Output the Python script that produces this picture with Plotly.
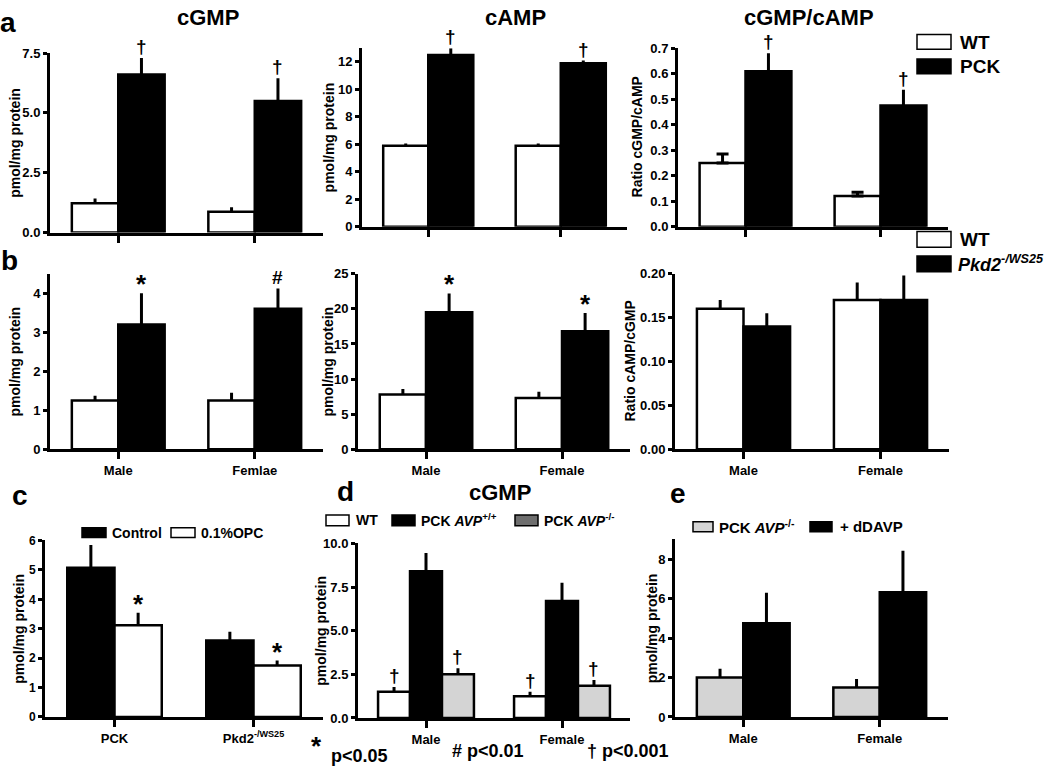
import plotly.graph_objects as go

W, H = 1050, 775
FONT = "Liberation Sans"

# ---------------- data ----------------
sex_groups = ["Male", "Female"]
b1_groups = ["Male", "Femlae"]
c_groups = ["PCK", "Pkd2<sup>-/WS25</sup>"]

# panel a: PCK vs WT
a_cgmp_wt = [1.22, 0.87]
a_cgmp_wt_sem = [0.20, 0.19]
a_cgmp_pck = [6.6, 5.5]
a_cgmp_pck_sem = [0.70, 0.95]

a_camp_wt = [5.9, 5.9]
a_camp_wt_sem = [0.15, 0.15]
a_camp_pck = [12.5, 11.9]
a_camp_pck_sem = [0.50, 0.20]

a_ratio_wt = [0.25, 0.12]
a_ratio_wt_sem = [0.035, 0.015]
a_ratio_pck = [0.61, 0.475]
a_ratio_pck_sem = [0.07, 0.062]

# panel b: Pkd2 vs WT
b_cgmp_wt = [1.25, 1.25]
b_cgmp_wt_sem = [0.12, 0.20]
b_cgmp_pkd = [3.2, 3.6]
b_cgmp_pkd_sem = [0.80, 0.52]

b_camp_wt = [7.8, 7.3]
b_camp_wt_sem = [0.8, 0.9]
b_camp_pkd = [19.5, 16.8]
b_camp_pkd_sem = [2.7, 2.6]

b_ratio_wt = [0.16, 0.17]
b_ratio_wt_sem = [0.010, 0.020]
b_ratio_pkd = [0.14, 0.17]
b_ratio_pkd_sem = [0.015, 0.028]

# panel c: OPC treatment
c_control = [5.07, 2.6]
c_control_sem = [0.78, 0.30]
c_opc = [3.12, 1.75]
c_opc_sem = [0.42, 0.17]

# panel d: AVP
d_wt = [1.5, 1.25]
d_wt_sem = [0.28, 0.25]
d_pck_avp_pp = [8.4, 6.7]
d_pck_avp_pp_sem = [1.05, 1.05]
d_pck_avp_mm = [2.5, 1.85]
d_pck_avp_mm_sem = [0.35, 0.33]

# panel e: dDAVP
e_avp_mm = [2.0, 1.5]
e_avp_mm_sem = [0.45, 0.42]
e_ddavp = [4.75, 6.33]
e_ddavp_sem = [1.55, 2.1]

WHITE, BLACK, LGRAY, DGRAY = "white", "black", "#d4d4d4", "#6e6e6e"

def S(vals, sems, color, marks=None, cap=0):
    return dict(vals=vals, sems=sems, color=color, marks=marks, cap=cap)

panels = [
    dict(px=(50, 323, 47, 230), rng=[0, 7.5], dtick=2.5, fmt=".1f", cats=sex_groups, showcats=False,
         ytitle="pmol/mg protein", ytx=15, width=0.34,
         series=[S(a_cgmp_wt, a_cgmp_wt_sem, WHITE), S(a_cgmp_pck, a_cgmp_pck_sem, BLACK, ["†", "†"])]),
    dict(px=(362, 627, 42, 224), rng=[0, 13], dtick=2, fmt="d", cats=sex_groups, showcats=False,
         ytitle="pmol/mg protein", ytx=329, width=0.34,
         series=[S(a_camp_wt, a_camp_wt_sem, WHITE), S(a_camp_pck, a_camp_pck_sem, BLACK, ["†", "†"])]),
    dict(px=(678, 948, 42, 224), rng=[0, 0.7], dtick=0.1, fmt=".1f", cats=sex_groups, showcats=False,
         ytitle="Ratio cGMP/cAMP", ytx=637, width=0.34,
         series=[S(a_ratio_wt, a_ratio_wt_sem, WHITE, cap=6), S(a_ratio_pck, a_ratio_pck_sem, BLACK, ["†", "†"])]),
    dict(px=(50, 323, 272, 451), rng=[0, 4.5], dtick=1, fmt="d", cats=b1_groups, showcats=True,
         ytitle="pmol/mg protein", ytx=15, width=0.34,
         series=[S(b_cgmp_wt, b_cgmp_wt_sem, WHITE), S(b_cgmp_pkd, b_cgmp_pkd_sem, BLACK, ["*", "#"])]),
    dict(px=(358, 630, 272, 451), rng=[0, 25], dtick=5, fmt="d", cats=sex_groups, showcats=True,
         ytitle="pmol/mg protein", ytx=328, width=0.34,
         series=[S(b_camp_wt, b_camp_wt_sem, WHITE), S(b_camp_pkd, b_camp_pkd_sem, BLACK, ["*", "*"])]),
    dict(px=(675, 949, 272, 451), rng=[0, 0.2], dtick=0.05, fmt=".2f", cats=sex_groups, showcats=True,
         ytitle="Ratio cAMP/cGMP", ytx=630, width=0.34,
         series=[S(b_ratio_wt, b_ratio_wt_sem, WHITE), S(b_ratio_pkd, b_ratio_pkd_sem, BLACK)]),
    dict(px=(45, 323, 544, 724), rng=[0, 6], dtick=1, fmt="d", cats=c_groups, showcats=True,
         ytitle="pmol/mg protein", ytx=19, width=0.34,
         series=[S(c_control, c_control_sem, BLACK), S(c_opc, c_opc_sem, WHITE, ["*", "*"])]),
    dict(px=(358, 630, 547, 725), rng=[0, 10], dtick=2.5, fmt=".1f", cats=sex_groups, showcats=True,
         ytitle="pmol/mg protein", ytx=321, width=0.235,
         series=[S(d_wt, d_wt_sem, WHITE, ["†", "†"]), S(d_pck_avp_pp, d_pck_avp_pp_sem, BLACK),
                 S(d_pck_avp_mm, d_pck_avp_mm_sem, LGRAY, ["†", "†"])]),
    dict(px=(675, 948, 543, 724), rng=[0, 9], dtick=2, fmt="d", cats=sex_groups, showcats=True,
         ytitle="pmol/mg protein", ytx=652, width=0.34,
         series=[S(e_avp_mm, e_avp_mm_sem, LGRAY), S(e_ddavp, e_ddavp_sem, BLACK)]),
]

fig = go.Figure()
layout = dict(width=W, height=H, margin=dict(l=0, r=0, t=0, b=0), paper_bgcolor="white",
              plot_bgcolor="white", barmode="overlay", showlegend=False,
              font=dict(family=FONT, color="black"))
annotations = []
shapes = []

def px_x(x):
    return x / W

def px_y(y):
    return 1 - y / H

for k, p in enumerate(panels, start=1):
    xa = "x" if k == 1 else f"x{k}"
    ya = "y" if k == 1 else f"y{k}"
    x0, x1, y0, y1 = p["px"]
    n = len(p["series"])
    w = p["width"]
    for j, s in enumerate(p["series"]):
        off = (j - (n - 1) / 2) * w
        xs = [i + off for i in range(len(s["vals"]))]
        fig.add_trace(go.Bar(
            x=xs, y=s["vals"], width=w, xaxis=xa, yaxis=ya, cliponaxis=False,
            marker=dict(color=s["color"], line=dict(color="black", width=2.5)),
            error_y=dict(type="data", symmetric=False, array=s["sems"],
                         arrayminus=[0] * len(s["sems"]), color="black",
                         thickness=3, width=s["cap"]),
            hoverinfo="skip"))
        if s["marks"]:
            for xi, v, e, m in zip(xs, s["vals"], s["sems"], s["marks"]):
                annotations.append(dict(
                    x=xi, y=v + e, xref=xa, yref=ya, text=f"<b>{m}</b>", showarrow=False,
                    yanchor="bottom", yshift=(-8 if m == "*" else -1),
                    font=dict(size=26 if m == "*" else 19, family=FONT)))
    axkey_x = "xaxis" if k == 1 else f"xaxis{k}"
    axkey_y = "yaxis" if k == 1 else f"yaxis{k}"
    layout[axkey_x] = dict(
        domain=[px_x(x0), px_x(x1)], range=[-0.5, 1.5], anchor=ya,
        tickvals=[0, 1], ticktext=p["cats"], showticklabels=p["showcats"],
        showline=True, linecolor="black", linewidth=3, ticks="outside", ticklen=7,
        tickwidth=2.5, tickcolor="black", showgrid=False, zeroline=False,
        tickfont=dict(family=FONT, size=13, weight="bold"), fixedrange=True)
    layout[axkey_y] = dict(
        domain=[px_y(y1), px_y(y0)], range=p["rng"], dtick=p["dtick"], tick0=0,
        tickformat=p["fmt"], anchor=xa, showline=True, linecolor="black", linewidth=3,
        ticks="outside", ticklen=4, tickwidth=2.5, tickcolor="black", showgrid=False,
        zeroline=False, tickfont=dict(family=FONT, size=13 if k != 7 else 12, weight="bold"),
        fixedrange=True)
    annotations.append(dict(
        x=px_x(p["ytx"]), y=px_y((y0 + y1) / 2), xref="paper", yref="paper",
        text=f"<b>{p['ytitle']}</b>", textangle=-90, showarrow=False,
        font=dict(size=14, family=FONT), xanchor="center", yanchor="middle"))

def text(x, y, t, size, anchor="left", family=FONT):
    annotations.append(dict(x=px_x(x), y=px_y(y), xref="paper", yref="paper", text=t,
                            showarrow=False, xanchor=anchor, yanchor="middle",
                            font=dict(size=size, family=family)))

def box(x0, y0, x1, y1, color):
    shapes.append(dict(type="rect", xref="paper", yref="paper", x0=px_x(x0), x1=px_x(x1),
                       y0=px_y(y1), y1=px_y(y0), fillcolor=color,
                       line=dict(color="black", width=1.5)))

# panel letters and titles
text(8, 16, "<b>a</b>", 28, "center")
text(9, 258, "<b>b</b>", 28, "center")
text(20, 498, "<b>c</b>", 28, "center")
text(346, 494, "<b>d</b>", 28, "center")
text(678, 496, "<b>e</b>", 28, "center")
text(208, 11, "<b>cGMP</b>", 22, "center")
text(515, 11, "<b>cAMP</b>", 22, "center")
text(809, 11, "<b>cGMP/cAMP</b>", 22, "center")
text(500, 495, "<b>cGMP</b>", 22, "center")

# legends
box(917, 28, 951, 43, WHITE); text(958, 36, "<b>WT</b>", 19)
box(917, 53, 951, 68, BLACK); text(958, 61, "<b>PCK</b>", 19)
box(917, 229, 951, 245, WHITE); text(958, 237, "<b>WT</b>", 19)
box(917, 254, 951, 270, BLACK); text(956, 262, "<b><i>Pkd2</i></b><sup><b><i>-/WS25</i></b></sup>", 18)

box(82, 531, 106, 541, BLACK); text(110, 536, "<b>Control</b>", 14)
box(171, 531, 195, 541, WHITE); text(199, 536, "<b>0.1%OPC</b>", 14)

box(326, 518, 349, 529, WHITE); text(354, 523, "<b>WT</b>", 14)
box(392, 518, 415, 529, BLACK); text(419, 523, "<b>PCK <i>AVP</i><sup>+/+</sup></b>", 14)
box(515, 518, 538, 529, DGRAY); text(542, 523, "<b>PCK <i>AVP</i><sup>-/-</sup></b>", 14)

box(693, 525, 713, 535, LGRAY); text(717, 530, "<b>PCK <i>AVP</i><sup>-/-</sup></b>", 15)
box(810, 525, 832, 535, BLACK); text(838, 530, "<b>+ dDAVP</b>", 15)

# significance key
text(316, 754, "<b>*</b>", 26, "center")
text(329, 764, "<b>p&lt;0.05</b>", 18)
text(450, 759, "<b># p&lt;0.01</b>", 18)
text(585, 759, "<b>† p&lt;0.001</b>", 18)

layout["annotations"] = annotations
layout["shapes"] = shapes
fig.update_layout(**layout)
fig.write_html("out.html", config={"displayModeBar": False},
               post_script="document.body.style.margin='0';document.body.style.overflow='hidden';")
